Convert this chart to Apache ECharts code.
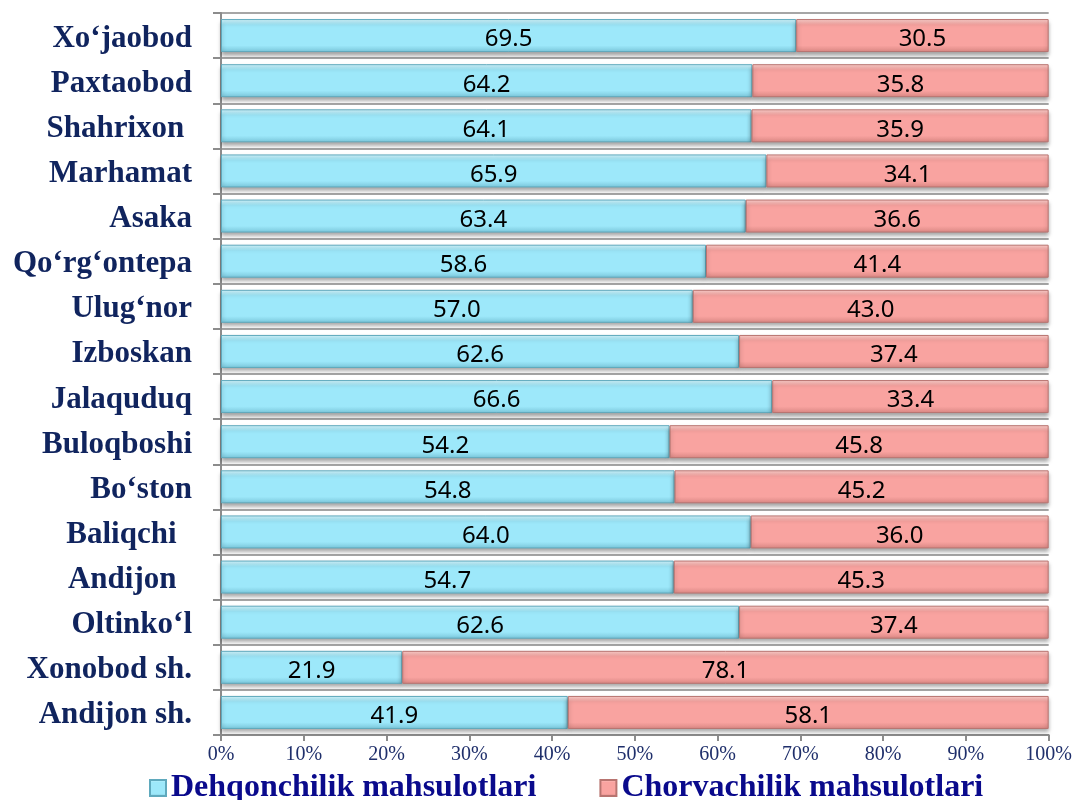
<!DOCTYPE html>
<html>
<head>
<meta charset="utf-8">
<script src="https://cdn.jsdelivr.net/npm/echarts@6/dist/echarts.min.js"></script>
<style>html,body{margin:0;padding:0;background:#fff}#c{width:1075px;height:800px}</style>
</head>
<body>
<div id="c"></div>
<script>
const categories = ['Xo‘jaobod', 'Paxtaobod', 'Shahrixon ', 'Marhamat', 'Asaka', 'Qo‘rg‘ontepa', 'Ulug‘nor', 'Izboskan', 'Jalaquduq', 'Buloqboshi', 'Bo‘ston', 'Baliqchi  ', 'Andijon  ', 'Oltinko‘l', 'Xonobod sh.', 'Andijon sh.'];
const dehqonchilik = [69.5, 64.2, 64.1, 65.9, 63.4, 58.6, 57.0, 62.6, 66.6, 54.2, 54.8, 64.0, 54.7, 62.6, 21.9, 41.9];
const chorvachilik = [30.5, 35.8, 35.9, 34.1, 36.6, 41.4, 43.0, 37.4, 33.4, 45.8, 45.2, 36.0, 45.3, 37.4, 78.1, 58.1];
const seriesNames = ['Dehqonchilik mahsulotlari', 'Chorvachilik mahsulotlari'];
const xTicks = [0, 10, 20, 30, 40, 50, 60, 70, 80, 90, 100];

const chart = echarts.init(document.getElementById('c'));
function grad(a, b, c) {
  return new echarts.graphic.LinearGradient(0, 0, 0, 1, [
    {offset: 0, color: a}, {offset: 0.18, color: b}, {offset: 0.8, color: b}, {offset: 1, color: c}
  ]);
}
const blue = grad('#D6F8FF', '#9DE8FA', '#7AC6DA');
const pink = grad('#FFD3CF', '#F9A3A0', '#D98783');
const labelStyle = {
  show: true, position: 'inside', color: '#000', offset: [0, 4],
  fontFamily: 'Noto Sans', fontSize: 24,
  formatter: p => p.value.toFixed(1)
};
chart.setOption({
  animation: false,
  grid: {left: 221, right: 26, top: 13, bottom: 65, containLabel: false},
  legend: {
    left: 144, top: 767, itemWidth: 16, itemHeight: 16, itemGap: 63,
    icon: 'rect',
    textStyle: {fontFamily: 'Liberation Serif', fontWeight: 'bold', fontSize: 32, color: '#0A0A8C'},
    data: seriesNames
  },
  xAxis: {
    type: 'value', min: 0, max: 100, interval: 10,
    axisLine: {show: true, lineStyle: {color: '#8C8C8C', width: 2}},
    axisTick: {show: true, length: 6, lineStyle: {color: '#8C8C8C', width: 2}},
    splitLine: {show: false},
    axisLabel: {
      fontFamily: 'Liberation Serif', fontSize: 20, color: '#1F2F6B', margin: 10,
      formatter: v => xTicks.includes(v) ? v + '%' : ''
    }
  },
  yAxis: {
    type: 'category', inverse: true, data: categories,
    axisLine: {show: true, lineStyle: {color: '#8C8C8C', width: 2}},
    axisTick: {show: true, length: 8, lineStyle: {color: '#8C8C8C', width: 2}},
    splitLine: {show: true, lineStyle: {color: '#A6A6A6', width: 2}},
    axisLabel: {
      margin: 29,
      formatter: v => '{a|' + v + '}',
      rich: {a: {fontFamily: 'Liberation Serif', fontWeight: 'bold', fontSize: 31, color: '#10245E',
        padding: [6, 0, 0, 0]}}
    }
  },
  series: [
    {
      name: seriesNames[0], type: 'bar', stack: 'total', data: dehqonchilik, barWidth: 33,
      itemStyle: {color: blue, borderColor: '#5FA9BD', borderWidth: 1,
        shadowColor: 'rgba(0,0,0,0.35)', shadowBlur: 4, shadowOffsetY: 3},
      label: labelStyle
    },
    {
      name: seriesNames[1], type: 'bar', stack: 'total', data: chorvachilik, barWidth: 33,
      itemStyle: {color: pink, borderColor: '#B87470', borderWidth: 1,
        shadowColor: 'rgba(0,0,0,0.35)', shadowBlur: 4, shadowOffsetY: 3},
      label: labelStyle
    }
  ]
});
</script>
</body>
</html>
